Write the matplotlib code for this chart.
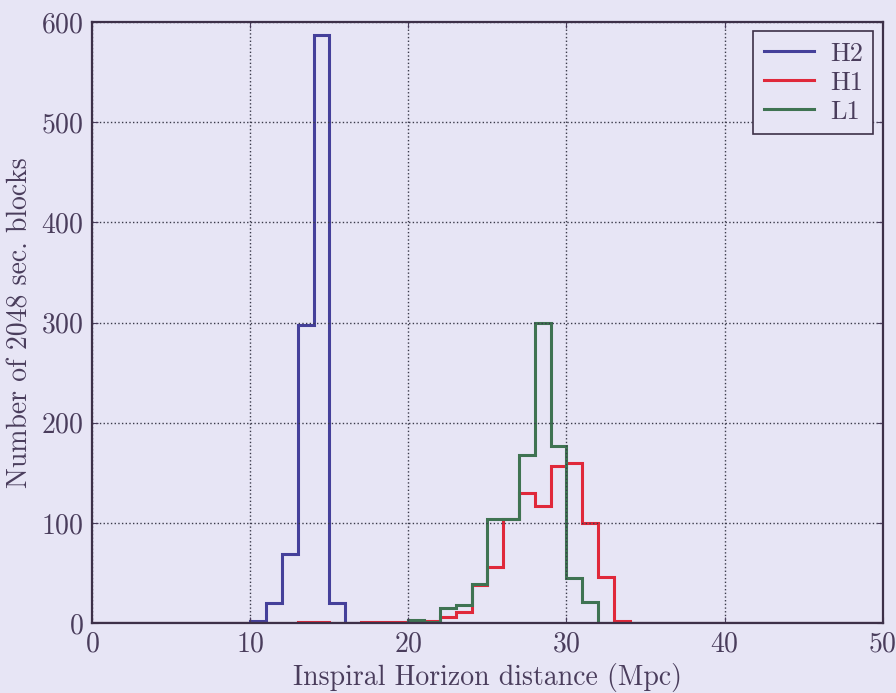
import numpy as np
import matplotlib
matplotlib.use("Agg")
import matplotlib.pyplot as plt

# bin edges (Mpc), 1 Mpc wide bins from 0 to 50
edges = list(range(0, 51))

# counts per bin
h2_counts = [0, 0, 0, 0, 0, 0, 0, 0, 0, 0,
             2, 20, 69, 298, 587, 20, 0, 0, 0, 0,
             2, 0, 0, 0, 0, 0, 0, 0, 0, 0,
             0, 0, 0, 0, 0, 0, 0, 0, 0, 0,
             0, 0, 0, 0, 0, 0, 0, 0, 0, 0]
h1_counts = [0, 0, 0, 0, 0, 0, 0, 0, 0, 0,
             0, 0, 0, 1, 1, 0, 0, 1, 1, 1,
             1, 2, 6, 11, 38, 56, 104, 130, 117, 157,
             160, 100, 46, 2, 0, 0, 0, 0, 0, 0,
             0, 0, 0, 0, 0, 0, 0, 0, 0, 0]
l1_counts = [0, 0, 0, 0, 0, 0, 0, 0, 0, 0,
             0, 0, 0, 0, 0, 0, 0, 0, 0, 0,
             3, 1, 15, 18, 39, 104, 104, 168, 300, 177,
             45, 21, 0, 0, 0, 0, 0, 0, 0, 0,
             0, 0, 0, 0, 0, 0, 0, 0, 0, 0]

ifos = ["H2", "H1", "L1"]
colors = {"H2": "#45409a", "H1": "#e0283a", "L1": "#3f7352"}
counts = {"H2": h2_counts, "H1": h1_counts, "L1": l1_counts}

bg = "#e7e5f5"
ink = "#4a3d5c"

plt.rcParams["font.family"] = "cmr10"
plt.rcParams["mathtext.fontset"] = "cm"
plt.rcParams["axes.formatter.use_mathtext"] = True
plt.rcParams["text.color"] = ink
plt.rcParams["axes.labelcolor"] = ink
plt.rcParams["xtick.color"] = ink
plt.rcParams["ytick.color"] = ink

fig = plt.figure(figsize=(8.96, 6.93), dpi=100, facecolor=bg)
ax = fig.add_axes([0.103, 0.101, 0.882, 0.867])
ax.set_facecolor(bg)

for ifo in ifos:
    ax.stairs(counts[ifo], edges, color=colors[ifo], linewidth=2.2, label=ifo)

ax.set_xlim(0, 50)
ax.set_ylim(0, 600)
ax.set_xticks([0, 10, 20, 30, 40, 50])
ax.set_yticks([0, 100, 200, 300, 400, 500, 600])
ax.tick_params(direction="in", length=4, labelsize=20, top=True, right=True, pad=6)
ax.grid(True, linestyle=":", color="#3a3a4a", linewidth=1.0)
for s in ax.spines.values():
    s.set_color("#3d3048")
    s.set_linewidth(1.6)

ax.set_xlabel("Inspiral Horizon distance (Mpc)", fontsize=20, labelpad=4)
ax.set_ylabel("Number of 2048 sec. blocks", fontsize=20, labelpad=6)

leg = ax.legend(loc="upper right", fontsize=19, handlelength=1.9, frameon=True,
                fancybox=False, borderpad=0.4, labelspacing=0.2, handletextpad=0.6,
                borderaxespad=0.35)
leg.get_frame().set_facecolor(bg)
leg.get_frame().set_edgecolor("#3d3048")
leg.get_frame().set_linewidth(1.2)
leg.get_frame().set_alpha(1)

fig.savefig("out.png", dpi=100, facecolor=bg)
